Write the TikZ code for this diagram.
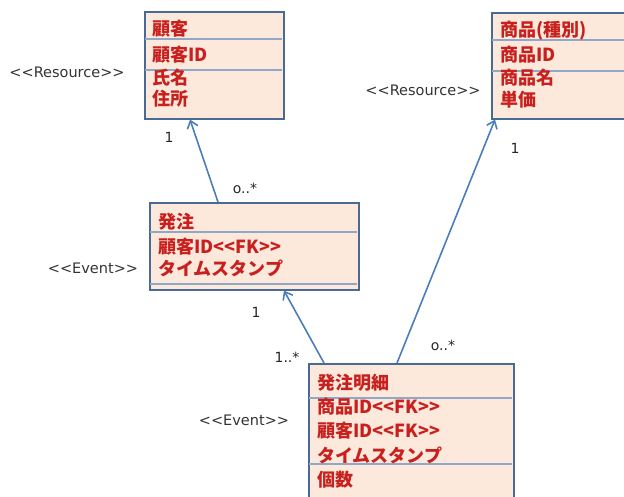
\documentclass[tikz,border=0pt]{standalone}
\usepackage{fontspec}
\setmainfont{DejaVu Sans}
\newfontfamily\jp{Noto Sans CJK JP}
\usetikzlibrary{arrows.meta}
\definecolor{boxfill}{HTML}{FDE9DC}
\definecolor{boxline}{HTML}{4A6A94}
\definecolor{divline}{HTML}{8FA8C8}
\definecolor{txtred}{HTML}{C8201E}
\definecolor{arrowblue}{HTML}{4A7EBB}
\begin{document}
\begin{tikzpicture}[x=1pt,y=-1pt,
  umlbox/.style={draw=boxline, line width=1.6pt, fill=boxfill, anchor=north west, inner sep=0pt},
  field/.style={anchor=west, text=txtred, font=\jp\bfseries\fontsize{18}{18}\selectfont, inner sep=0pt},
  stereo/.style={font=\fontsize{14.5}{15}\selectfont, text=black!80, inner sep=0pt},
  mult/.style={font=\fontsize{14}{15}\selectfont, text=black!85, inner sep=0pt},
  divider/.style={draw=divline, line width=1.2pt},
  assoc/.style={draw=arrowblue, line width=1.6pt, -{Straight Barb[length=7pt,width=11pt]}}]

\useasboundingbox (0,0) rectangle (624,497);
\begin{scope}
\clip (0,0) rectangle (624,497);

% boxes
\node[umlbox, minimum width=139pt, minimum height=107pt] (cust) at (144,11) {};
\node[umlbox, minimum width=140pt, minimum height=106pt] (prod) at (491,12) {};
\node[umlbox, minimum width=209pt, minimum height=87pt] (ord) at (149,202) {};
\node[umlbox, minimum width=205pt, minimum height=150pt] (det) at (308,363) {};

% compartments
\draw[divider] (145,39) -- (282,39);
\draw[divider] (145,70) -- (282,70);
\draw[divider] (492,40) -- (624,40);
\draw[divider] (492,71) -- (624,71);
\draw[divider] (150,232) -- (357,232);
\draw[divider] (150,284) -- (357,284);
\draw[divider] (309,398) -- (512,398);
\draw[divider] (309,464) -- (512,464);

% fields
\node[field] (c1) at (152,29) {顧客};
\node[field] (c2) at (152,55) {顧客ID};
\node[field] (c3) at (152,78) {氏名};
\node[field] (c4) at (152,99) {住所};

\node[field] (p1) at (500,31) {商品(種別)};
\node[field] (p2) at (500,55) {商品ID};
\node[field] (p3) at (500,78) {商品名};
\node[field] (p4) at (500,100) {単価};

\node[field] (o1) at (158,222) {発注};
\node[field] (o2) at (158,247) {顧客ID<<FK>>};
\node[field] (o3) at (158,268) {タイムスタンプ};

\node[field] (d1) at (317,383) {発注明細};
\node[field] (d2) at (317,407) {商品ID<<FK>>};
\node[field] (d3) at (317,431) {顧客ID<<FK>>};
\node[field] (d4) at (317,455) {タイムスタンプ};
\node[field] (d5) at (317,480) {個数};

% stereotypes
\node[stereo] (s1) at (67,72) {<{}<Resource>{}>};
\node[stereo] (s2) at (423,90) {<{}<Resource>{}>};
\node[stereo] (s3) at (93,268) {<{}<Event>{}>};
\node[stereo] (s4) at (244,420) {<{}<Event>{}>};

% multiplicities
\node[mult] (m1) at (169,137) {1};
\node[mult] (m2) at (245,188) {o..*};
\node[mult] (m3) at (256,312) {1};
\node[mult] (m4) at (287,357) {1..*};
\node[mult] (m5) at (443,345) {o..*};
\node[mult] (m6) at (515,148) {1};

% associations
\draw[assoc] ([xshift=69pt]ord.north west) -- ([xshift=46pt]cust.south west);
\draw[assoc] ([xshift=16pt]det.north west) -- ([xshift=135pt]ord.south west);
\draw[assoc] ([xshift=89pt]det.north west) -- ([xshift=4pt]prod.south west);
\end{scope}
\end{tikzpicture}
\end{document}
